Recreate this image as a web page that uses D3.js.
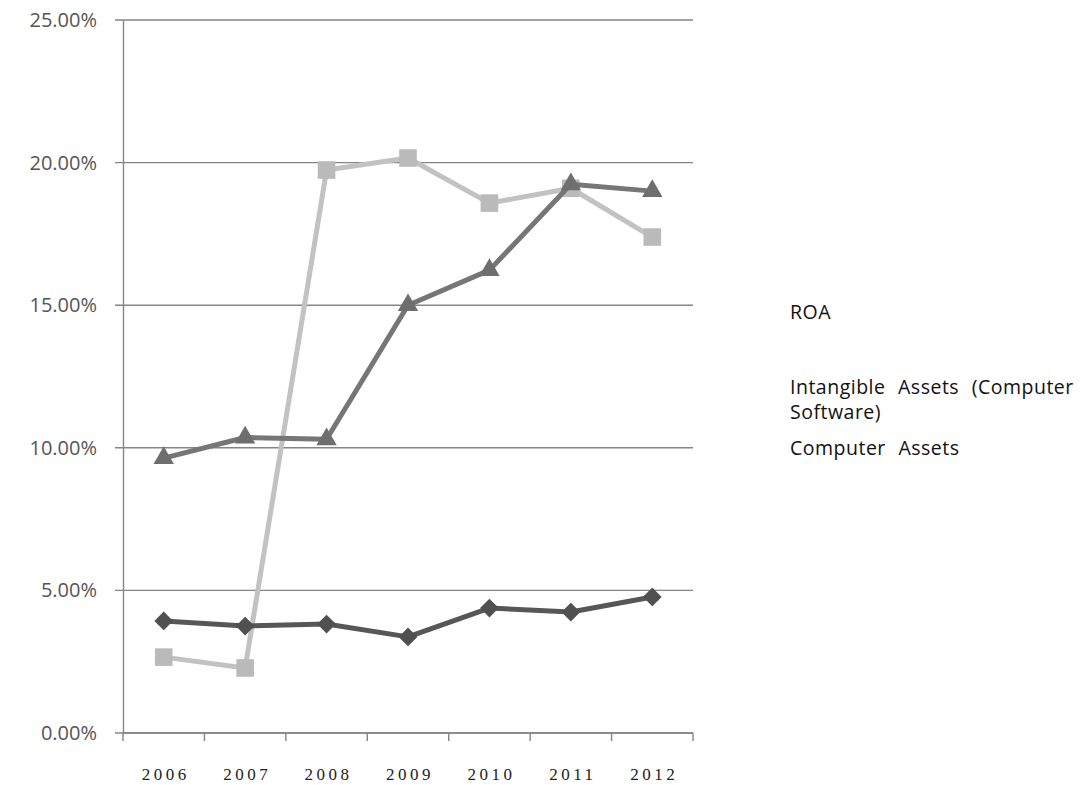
<!DOCTYPE html>
<html>
<head>
<meta charset="utf-8">
<script src="https://cdn.jsdelivr.net/npm/d3@7"></script>
<style>
  html, body { margin: 0; padding: 0; background: #fff; }
  svg { display: block; }
</style>
</head>
<body>
<svg id="chart" width="1088" height="785"></svg>
<script>
// Years along the category axis
const years = ["2006", "2007", "2008", "2009", "2010", "2011", "2012"];

// Series values (fractions)
const roa = [0.0393, 0.0375, 0.0382, 0.0337, 0.0438, 0.0424, 0.0477];
const intangibleAssets = [0.0266, 0.0228, 0.1974, 0.2016, 0.1858, 0.1910, 0.1739];
const computerAssets = [0.0964, 0.1036, 0.1030, 0.1500, 0.1623, 0.1924, 0.1900];

// Y axis ticks
const yTicks = [0, 0.05, 0.10, 0.15, 0.20, 0.25];

// Legend labels (line-wrapped as drawn)
const legendRoa = ["ROA"];
const legendIntangible = ["Intangible Assets (Computer", "Software)"];
const legendComputer = ["Computer Assets"];

const svg = d3.select("#chart");
const plot = { left: 123, right: 693, top: 20, bottom: 733 };

const x = d3.scaleBand().domain(years).range([plot.left, plot.right]);
const y = d3.scaleLinear().domain([0, 0.25]).range([plot.bottom, plot.top]);

// Horizontal gridlines
svg.append("g")
  .selectAll("line")
  .data(yTicks)
  .join("line")
  .attr("x1", plot.left - 8)
  .attr("x2", plot.right)
  .attr("y1", d => y(d))
  .attr("y2", d => y(d))
  .attr("stroke", "#858585")
  .attr("stroke-width", 1.4);

// Y axis
const yAxis = svg.append("g")
  .attr("transform", `translate(${plot.left},0)`)
  .call(d3.axisLeft(y).tickValues(yTicks).tickFormat(d3.format(".2%")).tickSize(0).tickPadding(26));
yAxis.select(".domain").attr("stroke", "#858585").attr("stroke-width", 1.4);
yAxis.selectAll("text")
  .attr("fill", "#555")
  .style("font-family", "'Open Sans', 'Noto Sans', sans-serif")
  .style("font-size", "20px");

// X axis with ticks between categories
const xAxisG = svg.append("g").attr("transform", `translate(0,${plot.bottom})`);
xAxisG.append("line")
  .attr("x1", plot.left).attr("x2", plot.right)
  .attr("stroke", "#858585").attr("stroke-width", 1.4);
const boundaries = years.map(d => x(d)).concat([x(years[years.length - 1]) + x.bandwidth()]);
xAxisG.selectAll("line.tick")
  .data(boundaries)
  .join("line")
  .attr("class", "tick")
  .attr("x1", d => d).attr("x2", d => d)
  .attr("y1", 0).attr("y2", 8)
  .attr("stroke", "#858585").attr("stroke-width", 1.4);
xAxisG.selectAll("text")
  .data(years)
  .join("text")
  .attr("x", d => x(d) + x.bandwidth() / 2 + 2)
  .attr("y", 47)
  .attr("text-anchor", "middle")
  .attr("fill", "#222")
  .style("font-family", "'Liberation Serif', 'DejaVu Serif', serif")
  .style("font-size", "17px")
  .style("letter-spacing", "3.5px")
  .text(d => d);

const cx = d => x(d) + x.bandwidth() / 2;

// Diamond drawn as a square turned 45 degrees
const diamondShape = {
  draw(context, size) {
    const r = Math.sqrt(size / 2);
    context.moveTo(0, -r);
    context.lineTo(r, 0);
    context.lineTo(0, r);
    context.lineTo(-r, 0);
    context.closePath();
  }
};

function drawSeries(values, lineColor, markerColor, symbolType, size) {
  const data = years.map((yr, i) => ({ yr, v: values[i] }));
  const line = d3.line().x(d => cx(d.yr)).y(d => y(d.v));
  svg.append("path")
    .datum(data)
    .attr("fill", "none")
    .attr("stroke", lineColor)
    .attr("stroke-width", 5)
    .attr("stroke-linejoin", "round")
    .attr("d", line);
  svg.append("g")
    .selectAll("path")
    .data(data)
    .join("path")
    .attr("transform", d => `translate(${cx(d.yr)},${y(d.v)})`)
    .attr("d", d3.symbol().type(symbolType).size(size))
    .attr("fill", markerColor);
}

drawSeries(intangibleAssets, "#c2c2c2", "#bababa", d3.symbolSquare, 310);
drawSeries(computerAssets, "#767676", "#6e6e6e", d3.symbolTriangle, 180);
drawSeries(roa, "#575757", "#505050", diamondShape, 175);

// Legend text
const legend = svg.append("g")
  .style("font-family", "'Open Sans', 'Noto Sans', sans-serif")
  .style("font-size", "19.5px")
  .style("letter-spacing", "0.5px")
  .style("word-spacing", "7px")
  .attr("fill", "#111");
function legendBlock(lines, y0) {
  legend.append("g").selectAll("text")
    .data(lines)
    .join("text")
    .attr("x", 790)
    .attr("y", (d, i) => y0 + i * 25)
    .text(d => d);
}
legendBlock(legendRoa, 319);
legendBlock(legendIntangible, 394);
legendBlock(legendComputer, 455);
</script>
</body>
</html>
